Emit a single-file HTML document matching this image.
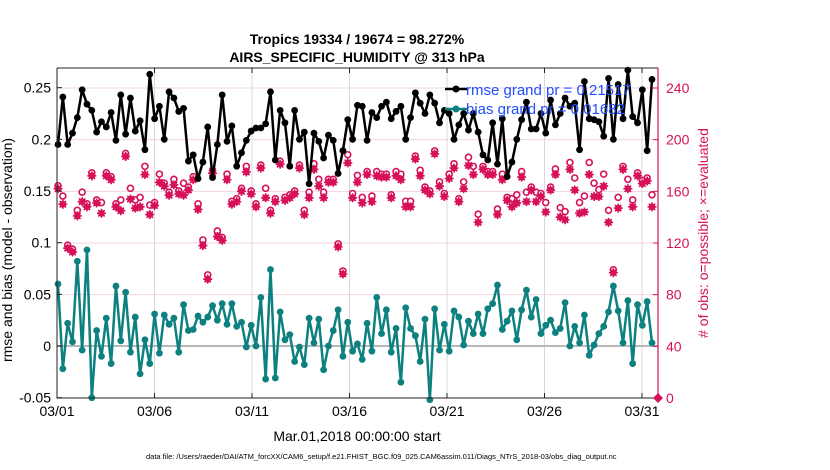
<!DOCTYPE html>
<html><head><meta charset="utf-8"><style>
body{margin:0;background:#fff;}
svg{display:block;font-family:"Liberation Sans",Arial,sans-serif;}
</style></head><body>
<svg id="chart" width="830" height="470" viewBox="0 0 830 470" xmlns="http://www.w3.org/2000/svg">
<rect width="830" height="470" fill="#fff"/>
<text x="357" y="44" font-size="14" font-weight="bold" text-anchor="middle">Tropics 19334 / 19674 = 98.272%</text>
<text x="357" y="62" font-size="14" font-weight="bold" text-anchor="middle">AIRS_SPECIFIC_HUMIDITY @ 313 hPa</text>
<g id="grid"></g>
<g id="marks"></g>
<g id="axes"></g>
<text transform="translate(12,250) rotate(-90)" font-size="14" text-anchor="middle">rmse and bias (model - observation)</text>
<text transform="translate(708,233) rotate(-90)" font-size="14" fill="#d6115a" text-anchor="middle"># of obs: o=possible; ×=evaluated</text>
<text x="357" y="441" font-size="14" text-anchor="middle">Mar.01,2018 00:00:00 start</text>
<text x="146" y="459" font-size="7.5">data file: /Users/raeder/DAI/ATM_forcXX/CAM6_setup/f.e21.FHIST_BGC.f09_025.CAM6assim.011/Diags_NTrS_2018-03/obs_diag_output.nc</text>
<g>
<line x1="445" y1="89" x2="467" y2="89" stroke="#000" stroke-width="2.5"/><circle cx="456" cy="89" r="3.5" fill="#000"/>
<text x="466" y="95" font-size="15" fill="#1f4fff">rmse grand pr = 0.21517</text>
<line x1="445" y1="109" x2="467" y2="109" stroke="#0d8080" stroke-width="2.5"/><circle cx="456" cy="109" r="3.5" fill="#0d8080"/>
<text x="466" y="114" font-size="15" fill="#1f4fff">bias grand pr = 0.01682</text>
</g>
</svg>
<script>
const rmse=[0.195,0.241,0.195,0.206,0.221,0.248,0.234,0.228,0.207,0.217,0.212,0.226,0.199,0.243,0.205,0.240,0.208,0.218,0.190,0.263,0.220,0.232,0.200,0.246,0.240,0.227,0.230,0.179,0.185,0.162,0.178,0.212,0.163,0.195,0.243,0.198,0.213,0.174,0.187,0.199,0.208,0.211,0.211,
0.215,0.246,0.180,0.228,0.216,0.174,0.228,0.200,0.207,0.157,0.206,0.198,0.182,0.204,0.199,0.167,0.189,0.219,0.200,0.233,0.232,0.199,0.226,0.221,0.232,0.236,0.220,0.227,0.232,0.200,0.221,0.245,0.235,0.225,0.243,0.235,0.216,0.228,0.225,0.200,0.214,
0.225,0.209,0.225,0.207,0.185,0.180,0.216,0.176,0.220,0.164,0.178,0.200,0.219,0.236,0.210,0.210,0.225,0.206,0.238,0.214,0.225,0.240,0.232,0.235,0.190,0.256,0.220,0.219,0.217,0.203,0.259,0.200,0.253,0.220,0.267,0.222,0.216,0.248,0.189,0.258];
const bias=[0.060,-0.022,0.022,0.004,0.082,-0.004,0.093,-0.050,0.015,-0.010,0.027,-0.017,0.058,0.005,0.052,-0.006,0.028,-0.027,0.006,-0.017,0.031,-0.007,0.030,0.021,0.027,-0.006,0.040,0.015,0.016,0.029,0.023,0.028,0.039,0.025,0.041,0.021,0.041,0.019,0.023,-0.001,0.020,0.000,0.047,
-0.032,0.074,-0.031,0.033,0.006,0.011,-0.015,-0.001,-0.018,0.027,0.003,0.026,-0.023,0.000,0.015,0.035,-0.010,0.023,-0.005,0.002,-0.013,0.022,-0.005,0.047,0.012,0.035,-0.006,0.017,-0.035,0.037,0.017,0.010,-0.015,0.026,-0.052,0.036,-0.004,0.021,-0.005,0.034,0.028,
0.001,0.024,0.012,0.031,0.012,0.036,0.041,0.059,0.016,0.024,0.034,0.006,0.035,0.054,0.028,0.045,0.012,0.020,0.025,0.013,0.017,0.042,0.000,0.019,0.003,0.030,-0.009,0.001,0.012,0.019,0.033,0.058,0.034,0.003,0.044,-0.017,0.040,0.020,0.043,0.003];
const evaluated=[162,150,116,113,141,152,148,172,151,143,172,169,148,145,187,154,147,148,173,142,149,167,164,157,165,158,157,161,169,146,118,92,174,125,122,169,150,152,160,175,158,148,178,
155,143,152,181,153,155,158,178,142,155,177,164,155,167,167,117,96,182,155,167,151,173,152,172,171,171,155,172,169,148,148,185,172,161,158,189,164,156,170,178,152,
162,180,173,136,177,173,173,142,169,153,148,151,171,152,161,152,156,144,161,173,140,138,177,161,143,144,173,156,156,164,136,97,147,177,162,148,172,166,168,148];
const possible=[162,154,116,113,143,157,148,172,151,149,172,169,148,151,187,160,151,153,177,147,149,171,164,157,167,158,164,161,169,148,120,93,174,127,122,171,150,152,160,177,158,148,178,
160,143,152,181,153,155,158,178,143,157,179,167,157,167,167,117,96,186,156,170,153,173,154,173,171,171,155,173,171,150,150,185,174,161,158,189,165,156,171,179,152,
165,184,177,140,177,173,173,144,171,153,152,155,173,157,161,157,156,149,161,175,145,142,180,168,149,154,180,164,159,171,143,97,153,177,167,151,172,166,168,155];
const xTickDays=[0,5,10,15,20,25,30];
const xTickLabels=["03/01","03/06","03/11","03/16","03/21","03/26","03/31"];
const leftTicks=[-0.05,0,0.05,0.1,0.15,0.2,0.25];
const leftTickLabels=["-0.05","0","0.05","0.1","0.15","0.2","0.25"];
const rightTicks=[0,40,80,120,160,200,240];

const NS="http://www.w3.org/2000/svg";
const X0=57,X1=658,Y0=68,Y1=398;
const dayX=d=>57+d*19.5;
const idxX=i=>58+i*(594/123);
const yL=v=>346-v*1033.3;
const yR=c=>398-c*1.2917;
function mk(tag,attrs,parent){const e=document.createElementNS(NS,tag);for(const k in attrs)e.setAttribute(k,attrs[k]);parent.appendChild(e);return e;}
const grid=document.getElementById('grid'),marks=document.getElementById('marks'),axes=document.getElementById('axes');
mk('rect',{x:X0,y:Y0,width:X1-X0,height:Y1-Y0,fill:'#fff'},grid);
rightTicks.forEach(c=>{const l=mk('line',{x1:X0,x2:X1,y1:yR(c),y2:yR(c),stroke:'#f2d3df','stroke-width':1},grid);

});
xTickDays.forEach(d=>{const l=mk('line',{x1:dayX(d),x2:dayX(d),y1:Y0,y2:Y1,stroke:'#d8d8d8','stroke-width':1},grid);

});
const zl=mk('line',{x1:X0,x2:X1,y1:yL(0),y2:yL(0),stroke:'#b8b8b8','stroke-width':2},grid);


// obs counts
possible.forEach((c,i)=>{const e=mk('circle',{cx:idxX(i),cy:yR(c)-3,r:3,fill:'#fff',stroke:'#d6115a','stroke-width':1.6},marks);

});
evaluated.forEach((c,i)=>{const g=mk('g',{},marks);


const x=idxX(i),y=yR(c);
mk('circle',{cx:x,cy:y,r:3.3,fill:'#d6115a'},g);
mk('path',{d:`M${x-4.5},${y}H${x+4.5}M${x},${y-4.5}V${y+4.5}M${x-3.2},${y-3.2}L${x+3.2},${y+3.2}M${x-3.2},${y+3.2}L${x+3.2},${y-3.2}`,stroke:'#d6115a','stroke-width':1.6},g);});
const zm=mk('path',{d:`M${X1},${Y1-5}L${X1+5},${Y1}L${X1},${Y1+5}L${X1-5},${Y1}Z`,fill:'#d6115a'},marks);


function series(vals,color,name){
 const p=mk('polyline',{points:vals.map((v,i)=>idxX(i)+','+yL(v)).join(' '),fill:'none',stroke:color,'stroke-width':2.5,'stroke-linejoin':'round'},marks);
 
 
 vals.forEach((v,i)=>{const c=mk('circle',{cx:idxX(i),cy:yL(v),r:3.4,fill:color},marks);
 
 });
}
series(rmse,'#000','rmse');
series(bias,'#0d8080','bias');
// axes
mk('path',{d:`M${X0},${Y0}H${X1}M${X0},${Y0}V${Y1}H${X1}`,stroke:'#222',fill:'none','stroke-width':1},axes);
mk('line',{x1:X1,x2:X1,y1:Y0,y2:Y1,stroke:'#d6115a','stroke-width':1.2},axes);
leftTicks.forEach((v,k)=>{mk('line',{x1:X0,x2:X0+5,y1:yL(v),y2:yL(v),stroke:'#222'},axes);
const t=mk('text',{x:X0-6,y:yL(v)+5,'font-size':14,'text-anchor':'end'},axes);t.textContent=leftTickLabels[k];

});
rightTicks.forEach(c=>{mk('line',{x1:X1-5,x2:X1,y1:yR(c),y2:yR(c),stroke:'#d6115a'},axes);
const t=mk('text',{x:X1+8,y:yR(c)+5,'font-size':14,fill:'#d6115a'},axes);t.textContent=c;

});
xTickDays.forEach((d,k)=>{mk('line',{x1:dayX(d),x2:dayX(d),y1:Y1-5,y2:Y1,stroke:'#222'},axes);
mk('line',{x1:dayX(d),x2:dayX(d),y1:Y0,y2:Y0+5,stroke:'#222'},axes);
const t=mk('text',{x:dayX(d),y:Y1+18,'font-size':14,'text-anchor':'middle'},axes);t.textContent=xTickLabels[k];

});
</script>
</body></html>
